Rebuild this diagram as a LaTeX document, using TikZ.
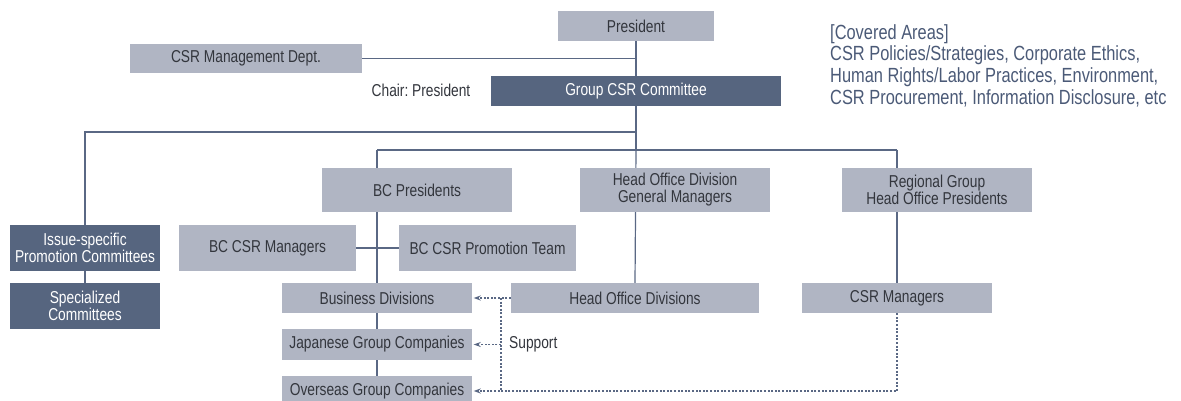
\documentclass[tikz,border=0pt]{standalone}
\usepackage{fontspec}
\setmainfont{Liberation Sans}[FakeStretch=0.8]
\usetikzlibrary{arrows.meta,backgrounds}
\frenchspacing
\definecolor{boxlight}{HTML}{B0B5C3}
\definecolor{boxdark}{HTML}{56657F}
\definecolor{linecol}{HTML}{5A6884}
\definecolor{txtdark}{HTML}{33363D}
\definecolor{areatxt}{HTML}{4B5A77}
\tikzset{
  lbl/.style={font=\fontsize{17.2}{17}\selectfont},
  unit/.style={rectangle, fill=boxlight, text=txtdark, inner sep=0pt, align=center, lbl},
  committee/.style={unit, fill=boxdark, text=white},
  link/.style={draw=linecol, line width=1.2pt},
  support/.style={draw=linecol, line width=1.1pt, dash pattern=on 2pt off 1.6pt,
    -{Stealth[length=7pt,width=5pt]}, shorten >=1.5pt},
  supportline/.style={draw=linecol, line width=1.1pt, dash pattern=on 2pt off 1.6pt},
}
\begin{document}
\begin{tikzpicture}[x=1pt,y=-1pt]
\useasboundingbox (0,0) rectangle (1181,401);
\clip (0,0) rectangle (1181,401);

% top level
\node[unit, minimum width=156, minimum height=30] (pres) at (636,26) {President};
\node[unit, minimum width=232, minimum height=29] (csrm) at (246,58.5) {CSR Management Dept.};
\node[committee, minimum width=290, minimum height=30] (gcsr) at (636,91) {Group CSR Committee};
\node[text=txtdark, lbl] (chair) at (421,90) {Chair: President};

% covered areas
\node[anchor=north west, inner sep=0pt, align=left, text=areatxt,
  font=\fontsize{20.5}{21.7}\selectfont] (areas) at (830,24)
  {[Covered Areas]\\CSR Policies/Strategies, Corporate Ethics,\\
   Human Rights/Labor Practices, Environment,\\
   CSR Procurement, Information Disclosure, etc};

% second level
\node[unit, minimum width=190, minimum height=44] (bcp) at (417,190) {BC Presidents};
\node[unit, minimum width=190, minimum height=44] (hodgm) at (675,190) {Head Office Division\\General Managers};
\node[unit, minimum width=190, minimum height=44] (rghp) at (937,190) {Regional Group\\Head Office Presidents};

% committees
\node[committee, minimum width=150, minimum height=46] (issue) at (85,248) {Issue-specific\\Promotion Committees};
\node[committee, minimum width=150, minimum height=46] (spec) at (85,306) {Specialized\\Committees};

% BC support
\node[unit, minimum width=177, minimum height=46] (bcm) at (267.5,248) {BC CSR Managers};
\node[unit, minimum width=177, minimum height=46] (bcpt) at (487.5,248) {BC CSR Promotion Team};

% operating units
\node[unit, minimum width=190, minimum height=30] (bd) at (377,298) {Business Divisions};
\node[unit, minimum width=248, minimum height=30] (hod) at (635,298) {Head Office Divisions};
\node[unit, minimum width=190, minimum height=30] (csrmgr) at (897,298) {CSR Managers};
\node[unit, minimum width=190, minimum height=31] (jgc) at (377,344.5) {Japanese Group Companies};
\node[unit, minimum width=190, minimum height=30] (ogc) at (377,391) {Overseas Group Companies};

\node[anchor=west, inner sep=0pt, text=txtdark, lbl] (sup) at (509,344) {Support};

% junction points
\coordinate (jm) at (636,58.5);
\coordinate (jc) at (636,132);
\coordinate (hub) at (636,150);
\coordinate (hubL) at (377,150);
\coordinate (hubR) at (897,150);
\coordinate (dv) at (501,298);

\begin{scope}[on background layer]
  \draw[link] (pres.south) -- (gcsr.north);
  \draw[link] (csrm.east) -- (jm);
  \draw[link] (gcsr.south) -- (hub);
  \draw[link] (jc) -| (issue.north);
  \draw[link] (issue.south) -- (spec.north);
  \draw[link] (hubL) -- (hubR);
  \draw[link] (hubL) -- (bd.north);
  \draw[link] (hub) -- (hod.north);
  \draw[link] (hubR) -- (csrmgr.north);
  \draw[link] (bcm.east) -- (bcpt.west);
  \draw[link] (bd.south) -- (jgc.north);
  \draw[link] (jgc.south) -- (ogc.north);
\end{scope}

% support relations
\draw[support] (hod.west) -- (bd.east);
\draw[supportline] (dv) -- (dv |- ogc.east);
\draw[support] (dv |- jgc.east) -- (jgc.east);
\draw[support] (csrmgr.south) |- (ogc.east);
\end{tikzpicture}
\end{document}
